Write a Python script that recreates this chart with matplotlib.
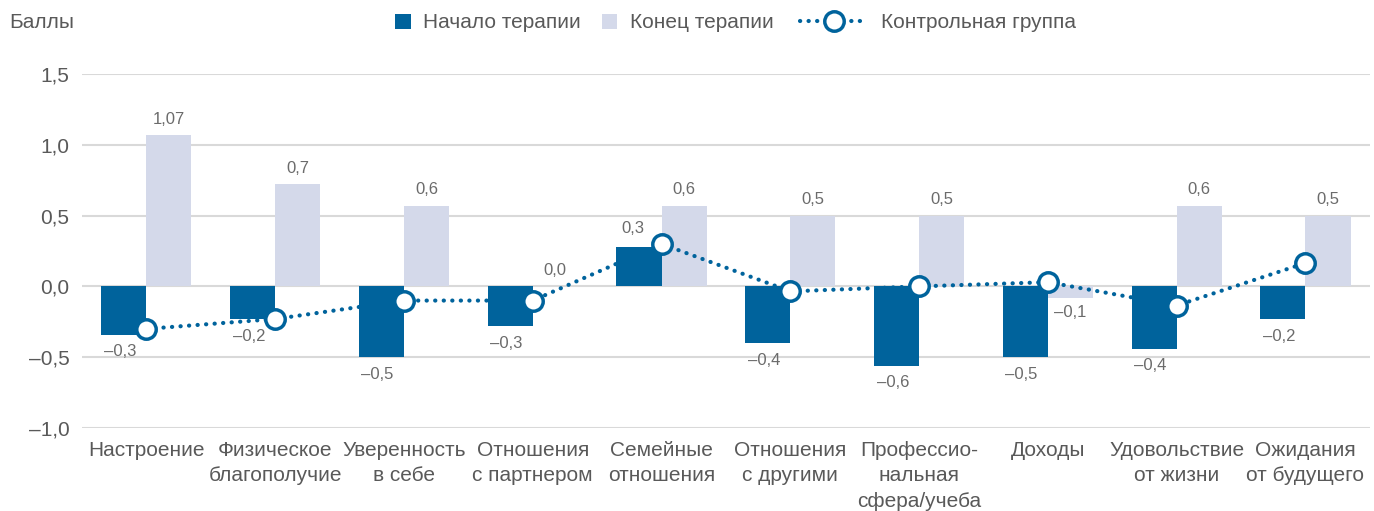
import matplotlib.pyplot as plt
import numpy as np
from matplotlib.patches import Patch
from matplotlib.lines import Line2D

plt.rcParams['font.family'] = ['Liberation Sans Narrow', 'Liberation Sans', 'DejaVu Sans']

categories = ["Настроение", "Физическое\nблагополучие", "Уверенность\nв себе",
              "Отношения\nс партнером", "Семейные\nотношения", "Отношения\nс другими",
              "Профессио-\nнальная\nсфера/учеба", "Доходы", "Удовольствие\nот жизни",
              "Ожидания\nот будущего"]
start_vals = [-0.34, -0.23, -0.50, -0.28, 0.28, -0.40, -0.56, -0.50, -0.44, -0.23]
end_vals = [1.07, 0.72, 0.57, 0.0, 0.57, 0.50, 0.50, -0.08, 0.57, 0.50]
control_vals = [-0.30, -0.23, -0.10, -0.10, 0.30, -0.035, 0.0, 0.03, -0.135, 0.165]
start_labels = ["–0,3", "–0,2", "–0,5", "–0,3", "0,3", "–0,4", "–0,6", "–0,5", "–0,4", "–0,2"]
end_labels = ["1,07", "0,7", "0,6", "0,0", "0,6", "0,5", "0,5", "–0,1", "0,6", "0,5"]
yticks = [-1.0, -0.5, 0.0, 0.5, 1.0, 1.5]
ytick_labels = ["–1,0", "–0,5", "0,0", "0,5", "1,0", "1,5"]

dark = "#00639c"
light = "#d4d9ea"
txt = "#595959"
lbl = "#6b6b6b"
dots = (0, (0.05, 2.0))

fig = plt.figure(figsize=(13.74, 5.11), dpi=100)
ax = fig.add_axes([0.0597, 0.1624, 0.9373, 0.6928])

x = np.arange(len(categories))
w = 0.35
ax.bar(x - w / 2, start_vals, w, color=dark, zorder=2)
ax.bar(x + w / 2, end_vals, w, color=light, zorder=2)
ax.plot(x, control_vals, linestyle=dots, linewidth=3.0, color=dark,
        marker="o", markersize=14, markerfacecolor="white", markeredgecolor=dark,
        markeredgewidth=2.5, zorder=4, dash_capstyle="round")

for i in range(len(categories)):
    v = start_vals[i]
    if v >= 0:
        ax.annotate(start_labels[i], (x[i] - w / 2 - 0.05, v), xytext=(0, 8),
                    textcoords="offset points", ha="center", va="bottom",
                    fontsize=12, color=lbl, zorder=5)
    else:
        ax.annotate(start_labels[i], (x[i] - w / 2 - 0.03, v), xytext=(0, -7),
                    textcoords="offset points", ha="center", va="top",
                    fontsize=12, color=lbl, zorder=5)
    v = end_vals[i]
    if v >= 0:
        ax.annotate(end_labels[i], (x[i] + w / 2, v), xytext=(0, 6),
                    textcoords="offset points", ha="center", va="bottom",
                    fontsize=12, color=lbl, zorder=5)
    else:
        ax.annotate(end_labels[i], (x[i] + w / 2, v), xytext=(0, -5),
                    textcoords="offset points", ha="center", va="top",
                    fontsize=12, color=lbl, zorder=5)

ax.set_xlim(-0.5, len(categories) - 0.5)
ax.set_ylim(-1.0, 1.5)
ax.set_yticks(yticks)
ax.set_yticklabels(ytick_labels)
ax.set_xticks(x)
ax.set_xticklabels(categories, linespacing=1.45)
ax.tick_params(axis="both", length=0, labelsize=15, labelcolor=txt)
ax.tick_params(axis="y", pad=9)
ax.tick_params(axis="x", pad=9)
ax.grid(axis="y", color="#d9d9d9", linewidth=1.5, zorder=0)
for s in ax.spines.values():
    s.set_visible(False)

fig.text(0.007, 0.955, "Баллы", fontsize=15, color=txt, ha="left", va="center")

# legend in two parts so the line handle can be longer than the squares
bars_handles = [Patch(facecolor=dark, edgecolor="none"),
                Patch(facecolor=light, edgecolor="none")]
leg1 = fig.legend(bars_handles, ["Начало терапии", "Конец терапии"],
                  loc="center left", bbox_to_anchor=(0.2875, 0.955), ncol=2,
                  frameon=False, fontsize=15, labelcolor=txt, handlelength=0.75,
                  handleheight=0.75, columnspacing=1.0, handletextpad=0.6,
                  borderpad=0, borderaxespad=0)
line_handle = Line2D([0], [0], linestyle=dots, linewidth=3.0, color=dark,
                     marker="o", markersize=14, markerfacecolor="white",
                     markeredgecolor=dark, markeredgewidth=2.5,
                     dash_capstyle="round")
leg2 = fig.legend([line_handle], ["Контрольная группа"],
                  loc="center left", bbox_to_anchor=(0.582, 0.955),
                  frameon=False, fontsize=15, labelcolor=txt, handlelength=3.3,
                  handletextpad=0.6, numpoints=1, borderpad=0, borderaxespad=0)

fig.savefig("out.png", dpi=100)
